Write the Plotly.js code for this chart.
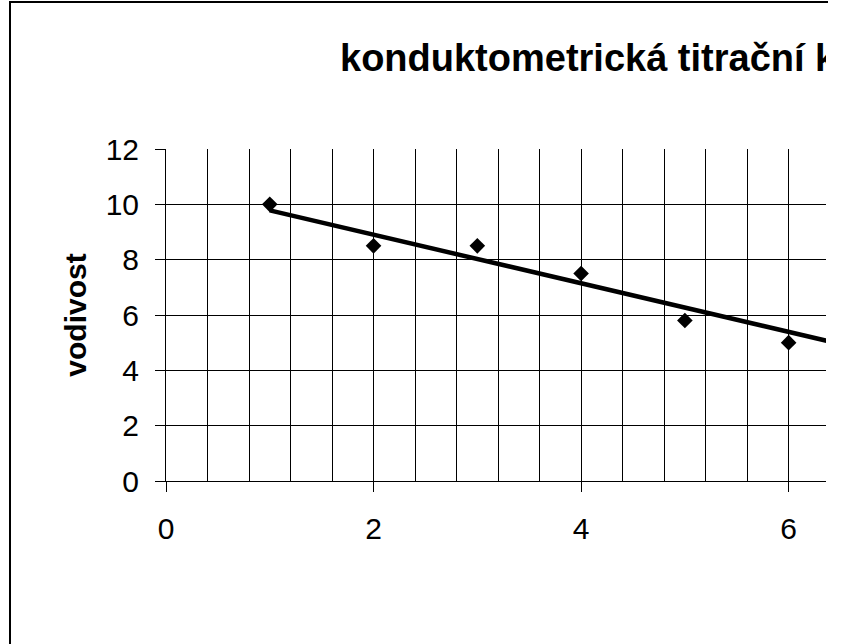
<!DOCTYPE html>
<html>
<head>
<meta charset="utf-8">
<script src="https://cdn.plot.ly/plotly-3.0.1.min.js"></script>
<style>
  html, body { margin: 0; padding: 0; background: #fff; }
  #wrap { position: relative; width: 842px; height: 644px; overflow: hidden; background: #fff; }
  #chart { position: absolute; left: 0; top: 0; width: 826px; height: 644px; }
  #frame { position: absolute; left: 9px; top: 1px; width: 817px; height: 700px;
           border-left: 2px solid #000; border-top: 2px solid #000; pointer-events: none; }
</style>
</head>
<body>
<div id="wrap">
  <div id="chart"></div>
  <div id="frame"></div>
</div>
<script>
// Data
var pointsX = [1, 2, 3, 4, 5, 6];
var pointsY = [10, 8.5, 8.5, 7.5, 5.8, 5];
var trendX = [1, 6.4];
var trendY = [9.78, 5.04];
var chartTitle = 'konduktometrická titrační křivka';
var yTitle = 'vodivost';

var traces = [
  {
    x: trendX, y: trendY, type: 'scatter', mode: 'lines',
    line: { color: '#000', width: 4.5 }, hoverinfo: 'skip', showlegend: false
  },
  {
    x: pointsX, y: pointsY, type: 'scatter', mode: 'markers',
    marker: { symbol: 'diamond', size: 12, color: '#000' }, showlegend: false
  }
];

var fontFam = 'Liberation Sans, Arial, sans-serif';

var layout = {
  width: 826, height: 644,
  margin: { l: 166, r: 0, t: 149, b: 163 },
  paper_bgcolor: '#fff', plot_bgcolor: '#fff',
  showlegend: false,
  title: {
    text: '<b>' + chartTitle + '</b>',
    font: { family: fontFam, size: 38, color: '#000' },
    xref: 'container', yref: 'container',
    x: 340 / 826, xanchor: 'left',
    y: 1 - 44 / 644, yanchor: 'top'
  },
  xaxis: {
    range: [0, 6.36], dtick: 2, tick0: 0,
    showgrid: true, gridcolor: '#000', gridwidth: 1,
    minor: { dtick: 0.4, tick0: 0, showgrid: true, gridcolor: '#000', gridwidth: 1, ticks: '' },
    zeroline: false,
    showline: true, linecolor: '#000', linewidth: 1,
    ticks: 'outside', ticklen: 10, tickcolor: '#000', tickwidth: 1,
    ticklabelstandoff: 11,
    tickfont: { family: fontFam, size: 30, color: '#000' },
    fixedrange: true
  },
  yaxis: {
    range: [0, 12], dtick: 2, tick0: 0,
    showgrid: true, gridcolor: '#000', gridwidth: 1,
    zeroline: false,
    showline: true, linecolor: '#000', linewidth: 1,
    ticks: 'outside', ticklen: 10, tickcolor: '#000', tickwidth: 1,
    ticklabelstandoff: 10,
    tickfont: { family: fontFam, size: 30, color: '#000' },
    title: {
      text: '<b>' + yTitle + '</b>',
      font: { family: fontFam, size: 30, color: '#000' },
      standoff: 10
    },
    fixedrange: true
  }
};

Plotly.newPlot('chart', traces, layout, { staticPlot: true, displayModeBar: false });
</script>
</body>
</html>
